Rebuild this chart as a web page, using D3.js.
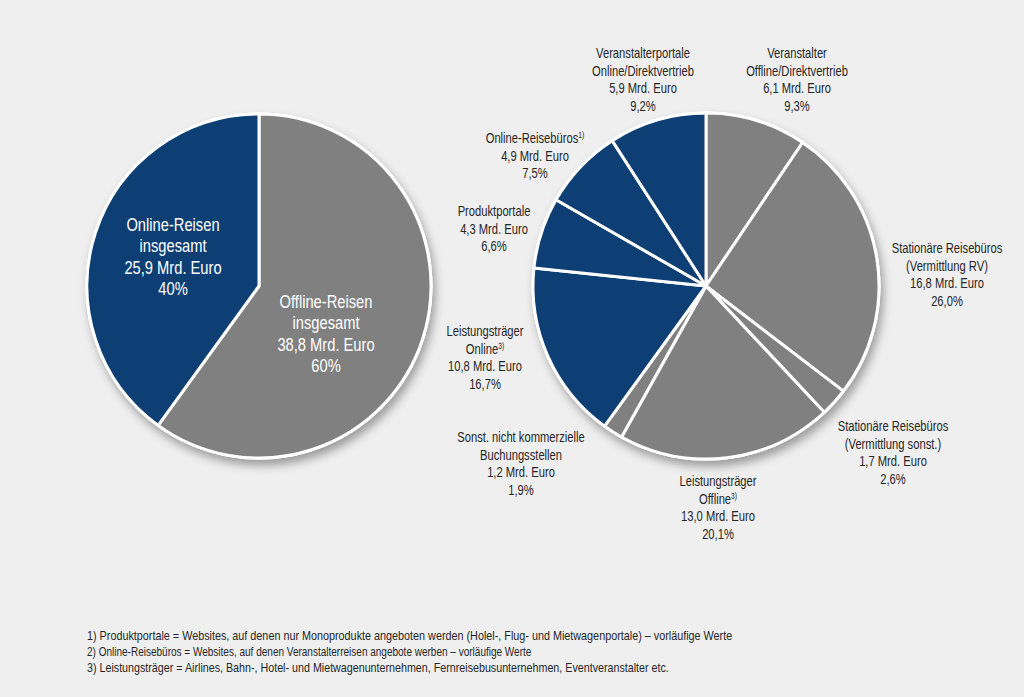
<!DOCTYPE html>
<html><head><meta charset="utf-8">
<script src="https://cdn.jsdelivr.net/npm/d3@7"></script>
<style>
html,body{margin:0;padding:0;background:#efefef;}
svg{display:block;font-family:"Liberation Sans",Arial,sans-serif;}
</style></head><body>
<svg id="c" width="1024" height="697"></svg>
<script>
// Left pie: overall
const totalNames = [["Online-Reisen","insgesamt"],["Offline-Reisen","insgesamt"]];
const totalValues = [25.9, 38.8];
const totalPct = ["40%","60%"];
const totalColors = ["#0e3f74","#808080"];

// Right pie: segments, clockwise from 12 o'clock
const segNames = [
  ["Veranstalter","Offline/Direktvertrieb"],
  ["Stationäre Reisebüros","(Vermittlung RV)"],
  ["Stationäre Reisebüros","(Vermittlung sonst.)"],
  ["Leistungsträger","Offline|3)"],
  ["Sonst. nicht kommerzielle","Buchungsstellen"],
  ["Leistungsträger","Online|3)"],
  ["Produktportale"],
  ["Online-Reisebüros|1)"],
  ["Veranstalterportale","Online/Direktvertrieb"]
];
const segValues = [6.1, 16.8, 1.7, 13.0, 1.2, 10.8, 4.3, 4.9, 5.9];
const segPct = [9.3, 26.0, 2.6, 20.1, 1.9, 16.7, 6.6, 7.5, 9.2];
const segOnline = [false,false,false,false,false,true,true,true,true];

const footnotes = [
  "1) Produktportale = Websites, auf denen nur Monoprodukte angeboten werden (Holel-, Flug- und Mietwagenportale) – vorläufige Werte",
  "2) Online-Reisebüros = Websites, auf denen Veranstalterreisen angebote werben – vorläufige Werte",
  "3) Leistungsträger = Airlines, Bahn-, Hotel- und Mietwagenunternehmen, Fernreisebusunternehmen, Eventveranstalter etc."
];

// layout (label anchor points, first line)
const segLabelPos = [[797,58],[947,253],[893,431],[718,486],[521,442],[485,336],[494,216],[535,143],[643,58]];
const totalLabelPos = [[173,231],[326,308]];

const fmt = v => d3.format(".1f")(v).replace(".", ",");
const svg = d3.select("#c");
const defs = svg.append("defs");
const f = defs.append("filter").attr("id","sh").attr("x","-20%").attr("y","-20%").attr("width","140%").attr("height","140%");
f.append("feDropShadow").attr("dx",3).attr("dy",6).attr("stdDeviation",5).attr("flood-color","#000").attr("flood-opacity",0.35);

const pie = d3.pie().sort(null).value(d => d);

function drawPie(cx, cy, r, values, colors, startAngle){
  const g = svg.append("g").attr("transform",`translate(${cx},${cy})`);
  g.append("circle").attr("r", r+1.5).attr("fill","#fff").attr("filter","url(#sh)");
  const arc = d3.arc().innerRadius(0).outerRadius(r);
  const p = pie.startAngle(startAngle).endAngle(startAngle + 2*Math.PI);
  g.selectAll("path").data(p(values)).join("path")
    .attr("d", arc).attr("fill", (d,i) => colors[i])
    .attr("stroke","#fff").attr("stroke-width",3).attr("stroke-linejoin","round");
  return g;
}

const leftColors = [totalColors[1], totalColors[0]];
drawPie(259, 286, 172, [totalValues[1], totalValues[0]], leftColors, 0);
drawPie(706, 286, 173, segValues, segValues.map((d,i)=> segOnline[i] ? "#0e3f74" : "#808080"), 0);

function addLines(x, y, lines, lh, size, color, sx){
  const g = svg.append("g").attr("transform",`translate(${x},0) scale(${sx},1)`);
  const t = g.append("text").attr("text-anchor","middle").attr("font-size",size).attr("fill",color);
  lines.forEach((ln,i) => {
    const parts = ln.split("|");
    t.append("tspan").attr("x",0).attr("y",y+i*lh).text(parts[0]);
    if(parts[1]){
      t.append("tspan").attr("font-size",size*0.6).attr("dy",-5).text(parts[1]);
    }
  });
}

totalNames.forEach((n,i) => {
  addLines(totalLabelPos[i][0], totalLabelPos[i][1], [...n, fmt(totalValues[i])+" Mrd. Euro", totalPct[i]], 21.3, 17.5, "#fff", 0.84);
});

segNames.forEach((n,i) => {
  addLines(segLabelPos[i][0], segLabelPos[i][1], [...n, fmt(segValues[i])+" Mrd. Euro", fmt(segPct[i])+"%"], 17.6, 14, "#262626", 0.8);
});

const targetW = [646, 445, 583];
footnotes.forEach((t,i) => {
  const g = svg.append("g").attr("transform",`translate(87,0)`);
  const tx = g.append("text").attr("x",0).attr("y",640+i*16).attr("font-size",12.5).attr("fill","#262626").text(t);
  const w = tx.node().getComputedTextLength();
  g.attr("transform",`translate(87,0) scale(${targetW[i]/w},1)`);
});
</script>
</body></html>
